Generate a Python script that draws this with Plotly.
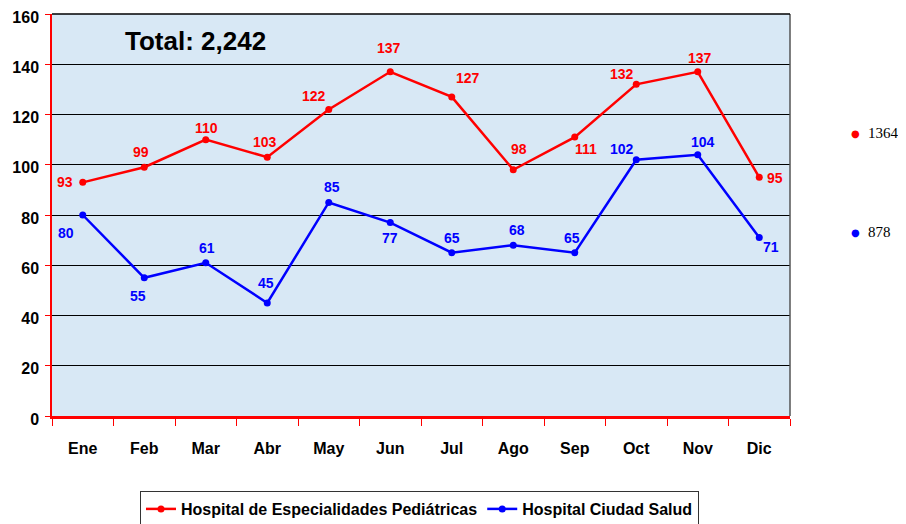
import plotly.graph_objects as go

months = ["Ene", "Feb", "Mar", "Abr", "May", "Jun", "Jul", "Ago", "Sep", "Oct", "Nov", "Dic"]
pediatricas = [93, 99, 110, 103, 122, 137, 127, 98, 111, 132, 137, 95]
ciudad_salud = [80, 55, 61, 45, 85, 77, 65, 68, 65, 102, 104, 71]
series_names = ["Hospital de Especialidades Pediátricas", "Hospital Ciudad Salud"]
total_label = "Total: 2,242"

# label offsets in pixels (style only)
off_red = [(-18, 0), (-3, 15), (1, 12), (-2, 15), (-15, 13), (-1, 24), (16, 19), (6, 21), (11, -12), (-14, 10), (2, 14), (16, -1)]
off_blue = [(-17, -18), (-6, -18), (1, 15), (-1, 20), (3, 15), (0, -15), (0, 15), (4, 15), (-3, 15), (-14, 11), (5, 13), (12, -9)]

RED = "#ff0000"
BLUE = "#0000ff"
FONT = "Liberation Sans, Arial, sans-serif"

OFF = 8  # page body margin
L, R, T, B = 52 - OFF, 790 - OFF, 14 - OFF, 416 - OFF
W, H = 906 - OFF, 524 - OFF

fig = go.Figure()
for name, vals, col in [(series_names[0], pediatricas, RED), (series_names[1], ciudad_salud, BLUE)]:
    fig.add_trace(go.Scatter(x=months, y=vals, name=name, mode="lines+markers",
                             line=dict(color=col, width=2.5), marker=dict(color=col, size=7)))

ann = []
for vals, offs, col in [(pediatricas, off_red, RED), (ciudad_salud, off_blue, BLUE)]:
    for m, v, (dx, dy) in zip(months, vals, offs):
        ann.append(dict(x=m, y=v, text=f"<b>{v}</b>", showarrow=False, xshift=dx, yshift=dy,
                        font=dict(family=FONT, size=14, color=col)))

ann.append(dict(xref="paper", yref="paper", x=(123 - OFF - L) / (R - L), y=(B - (41 - OFF)) / (B - T),
                xanchor="left", yanchor="middle",
                text=f"<b>{total_label}</b>", showarrow=False,
                font=dict(family=FONT, size=26, color="black")))

for s, col, ypx in [(sum(pediatricas), RED, 133), (sum(ciudad_salud), BLUE, 232)]:
    yp = (B - (ypx - OFF)) / (B - T)
    ann.append(dict(xref="paper", yref="paper", x=(855 - OFF - L) / (R - L), y=yp, xanchor="center", yanchor="middle",
                    text="●", showarrow=False, font=dict(family="DejaVu Sans", size=10, color=col)))
    ann.append(dict(xref="paper", yref="paper", x=(866 - OFF - L) / (R - L), y=yp, xanchor="left", yanchor="middle",
                    text=str(s), showarrow=False, font=dict(family="Liberation Serif", size=15, color="black")))

fig.update_layout(
    width=W, height=H,
    margin=dict(l=L, r=W - R, t=T, b=H - B, autoexpand=False),
    paper_bgcolor="white", plot_bgcolor="#d8e8f5",
    annotations=ann,
    showlegend=True,
    legend=dict(orientation="h", x=(140 - OFF - L) / (R - L), xanchor="left",
                y=-(491 - OFF - B) / (B - T), yanchor="top",
                bordercolor="#333333", borderwidth=1, bgcolor="white",
                font=dict(family=FONT, size=16, color="black", weight="bold"), itemwidth=30,
                tracegroupgap=0),
    font=dict(family=FONT),
)
fig.update_xaxes(range=[-0.5, 11.5], showgrid=False, showline=True, linecolor=RED, linewidth=2.5,
                 ticks="outside", tickson="boundaries", ticklen=7, tickcolor=RED, tickwidth=1,
                 ticklabelstandoff=16, tickfont=dict(family=FONT, size=16, color="black", weight="bold"),
                 mirror=False)
fig.update_yaxes(range=[0, 160], dtick=20, showgrid=True, gridcolor="black", gridwidth=1,
                 showline=True, linecolor=RED, linewidth=1.5, ticks="outside", ticklen=5, tickcolor=RED,
                 ticklabelstandoff=3, ticklabeloverflow="allow", ticklabelshift=3,
                 tickfont=dict(family=FONT, size=16, color="black", weight="bold"), zeroline=False)
fig.add_shape(type="line", xref="paper", yref="paper", x0=1, x1=1, y0=0, y1=1,
              line=dict(color="#555555", width=1.5))
fig.add_shape(type="line", xref="paper", yref="paper", x0=0, x1=1, y0=1, y1=1,
              line=dict(color="black", width=1.5))

fig.write_html("out.html")
